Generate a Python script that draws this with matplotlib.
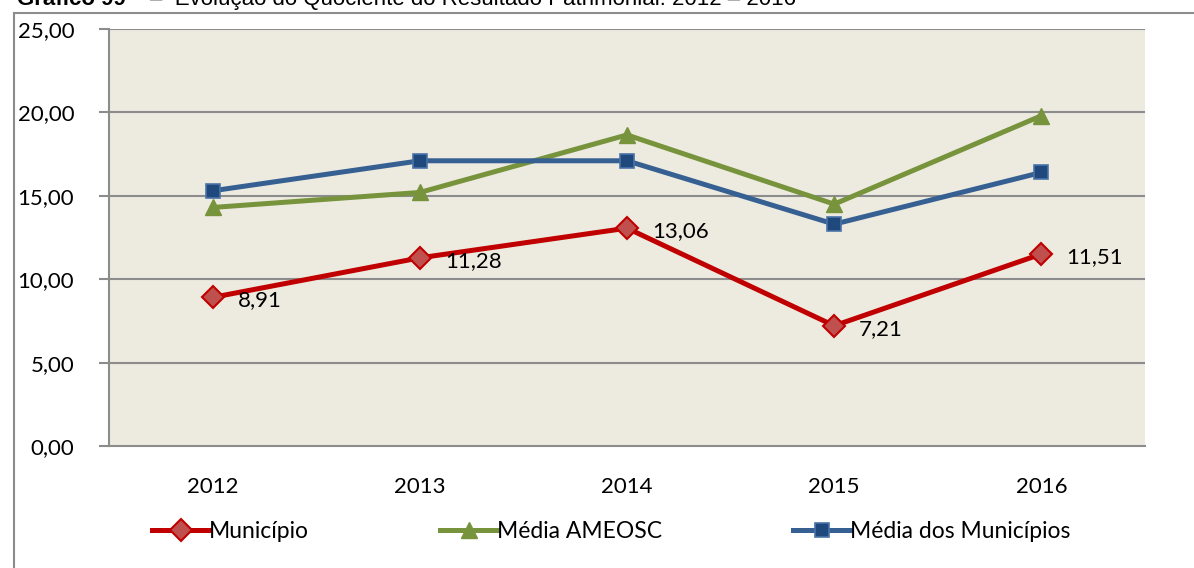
import numpy as np
import matplotlib
matplotlib.use("Agg")
import matplotlib.pyplot as plt
from matplotlib.lines import Line2D

# data
years = ["2012", "2013", "2014", "2015", "2016"]
municipio = [8.91, 11.28, 13.06, 7.21, 11.51]
media_ameosc = [14.3, 15.2, 18.65, 14.5, 19.8]
media_municipios = [15.3, 17.1, 17.1, 13.3, 16.4]
yticks = [0, 5, 10, 15, 20, 25]

plt.rcParams['font.family'] = ['Lato', 'DejaVu Sans']

fig = plt.figure(figsize=(11.94, 5.68), dpi=100)
ax = fig.add_axes([109/1194, 122/568, (1145-109)/1194, (446-29)/568])
ax.set_facecolor("#EDEBE0")

x = np.arange(len(years)) + 0.5

# gridlines
for t in yticks[1:]:
    ax.axhline(t, color="#8C8C8C", lw=1.5, zorder=1)

ax.plot(x, municipio, color="#C00000", lw=3.6, marker="D", ms=11,
        mfc="#C0504D", mec="#C00000", mew=1.5, zorder=5, label="Município")
ax.plot(x, media_ameosc, color="#77933C", lw=3.6, marker="^", ms=12,
        mfc="#77933C", mec="#77933C", zorder=3, label="Média AMEOSC")
ax.plot(x, media_municipios, color="#376092", lw=3.6, marker="s", ms=10.5,
        mfc="#1F497D", mec="#4A74A8", mew=1.2, zorder=4, label="Média dos Municípios")

# data labels for Município
for xi, v in zip(x, municipio):
    ax.annotate(f"{v:.2f}".replace(".", ","), xy=(xi, v), xytext=(25, -3),
                textcoords="offset pixels", ha="left", va="center", fontsize=16,
                color="black", zorder=6)

ax.set_xlim(0, len(years))
ax.set_ylim(0, 25)
ax.set_xticks(x)
ax.set_xticklabels(years, fontsize=16)
ax.set_yticks(yticks)
ax.set_yticklabels([f"{t:.2f}".replace(".", ",") for t in yticks], fontsize=16)
ax.tick_params(axis="x", length=0, pad=22)
ax.tick_params(axis="y", length=7, width=1.5, color="#8C8C8C", pad=18)
for s in ["top", "right"]:
    ax.spines[s].set_visible(False)
for s in ["left", "bottom"]:
    ax.spines[s].set_color("#8C8C8C")
    ax.spines[s].set_linewidth(1.5)

# legend below the chart
handles, labels = ax.get_legend_handles_labels()
fig.legend(handles, labels, loc="center", bbox_to_anchor=(0.512, 36/568), ncol=3,
           frameon=False, fontsize=16.5, handlelength=2.5, handletextpad=0.0,
           columnspacing=5.7, numpoints=1)

# outer chart frame (clipped in the reference)
fig.add_artist(Line2D([14/1194, 1], [1 - 13/568, 1 - 13/568], color="#8C8C8C", lw=1.5))
fig.add_artist(Line2D([14/1194, 14/1194], [0, 1 - 13/568], color="#8C8C8C", lw=1.5))

# cut-off title at top
fig.text(17/1194, 1 - 5/568, "Gráfico 99", fontsize=16, fontweight="bold",
         family="Liberation Sans", va="baseline")
fig.text(150/1194, 1 - 5/568, "–  Evolução do Quociente do Resultado Patrimonial: 2012 – 2016",
         fontsize=16, family="Liberation Sans", va="baseline")

fig.savefig("out.png", dpi=100)
